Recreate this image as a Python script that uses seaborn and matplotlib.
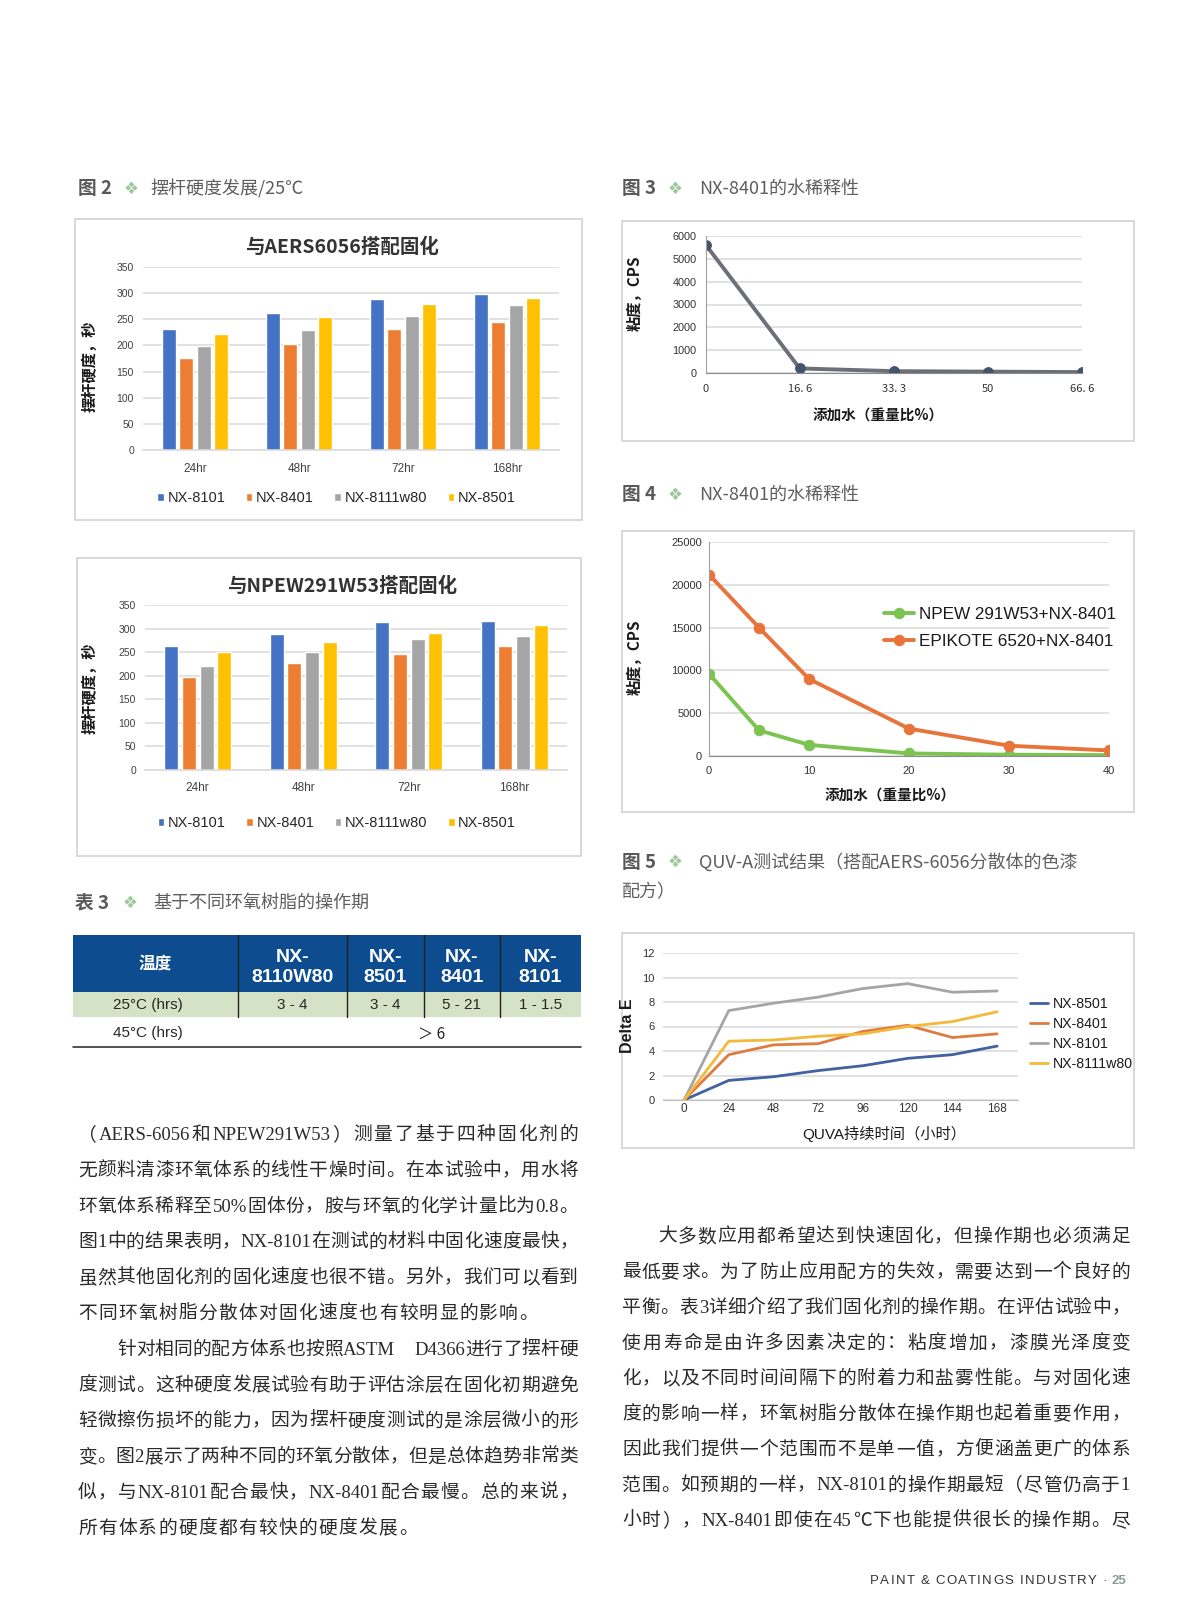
import re
import numpy as np
import pandas as pd
import matplotlib
matplotlib.use('Agg')
import matplotlib.pyplot as plt
import seaborn as sns
from matplotlib.patches import Rectangle

W, H = 1200, 1613
sns.set_style('white')
SANS = ['Liberation Sans', 'Noto Sans CJK SC', 'DejaVu Sans']
CJK = ['Noto Sans CJK SC', 'DejaVu Sans']
SERIF = ['Liberation Serif', 'Noto Sans CJK SC', 'DejaVu Sans']
plt.rcParams['font.family'] = SANS
plt.rcParams['axes.unicode_minus'] = False

# ---------------- data ----------------
times = ['24hr', '48hr', '72hr', '168hr']
curing_agents = ['NX-8101', 'NX-8401', 'NX-8111w80', 'NX-8501']
aers_nx8101 = [231, 262, 289, 298]
aers_nx8401 = [176, 202, 231, 244]
aers_nx8111w80 = [198, 229, 257, 278]
aers_nx8501 = [221, 255, 279, 290]
npew_nx8101 = [263, 289, 313, 317]
npew_nx8401 = [198, 226, 247, 264]
npew_nx8111w80 = [221, 250, 278, 284]
npew_nx8501 = [250, 271, 291, 308]
bar_colors = ['#4472C4', '#ED7D31', '#A5A5A5', '#FFC000']

water3 = [0, 16.6, 33.3, 50, 66.6]
water3_labels = ['0', '16. 6', '33. 3', '50', '66. 6']
visc3 = [5600, 200, 80, 60, 40]

water4 = [0, 5, 10, 20, 30, 40]
visc_npew = [9600, 3000, 1300, 300, 150, 100]
visc_epikote = [21200, 15000, 9000, 3200, 1200, 650]
fig4_labels = ['NPEW 291W53+NX-8401', 'EPIKOTE 6520+NX-8401']

quv_hours = [0, 24, 48, 72, 96, 120, 144, 168]
de_nx8501 = [0, 1.6, 1.9, 2.4, 2.8, 3.4, 3.7, 4.4]
de_nx8401 = [0, 3.7, 4.5, 4.6, 5.6, 6.1, 5.1, 5.4]
de_nx8101 = [0, 7.3, 7.9, 8.4, 9.1, 9.5, 8.8, 8.9]
de_nx8111w80 = [0, 4.8, 4.9, 5.2, 5.4, 6.0, 6.4, 7.2]
quv_series = ['NX-8501', 'NX-8401', 'NX-8101', 'NX-8111w80']
quv_colors = ['#41629E', '#E07B40', '#A5A5A5', '#F2B93B']

table_header = ['温度', 'NX-\n8110W80', 'NX-\n8501', 'NX-\n8401', 'NX-\n8101']
table_row25 = ['25°C (hrs)', '3 - 4', '3 - 4', '5 - 21', '1 - 1.5']
table_row45 = ['45°C (hrs)', '＞ 6']

body_left = [
    '（AERS-6056和NPEW291W53）测量了基于四种固化剂的',
    '无颜料清漆环氧体系的线性干燥时间。在本试验中，用水将',
    '环氧体系稀释至50%固体份，胺与环氧的化学计量比为0.8。',
    '图1中的结果表明，NX-8101在测试的材料中固化速度最快，',
    '虽然其他固化剂的固化速度也很不错。另外，我们可以看到',
    '不同环氧树脂分散体对固化速度也有较明显的影响。',
    '针对相同的配方体系也按照ASTM　D4366进行了摆杆硬',
    '度测试。这种硬度发展试验有助于评估涂层在固化初期避免',
    '轻微擦伤损坏的能力，因为摆杆硬度测试的是涂层微小的形',
    '变。图2展示了两种不同的环氧分散体，但是总体趋势非常类',
    '似，与NX-8101配合最快，NX-8401配合最慢。总的来说，',
    '所有体系的硬度都有较快的硬度发展。',
]
body_right = [
    '大多数应用都希望达到快速固化，但操作期也必须满足',
    '最低要求。为了防止应用配方的失效，需要达到一个良好的',
    '平衡。表3详细介绍了我们固化剂的操作期。在评估试验中，',
    '使用寿命是由许多因素决定的：粘度增加，漆膜光泽度变',
    '化，以及不同时间间隔下的附着力和盐雾性能。与对固化速',
    '度的影响一样，环氧树脂分散体在操作期也起着重要作用，',
    '因此我们提供一个范围而不是单一值，方便涵盖更广的体系',
    '范围。如预期的一样，NX-8101的操作期最短（尽管仍高于1',
    '小时），NX-8401即使在45℃下也能提供很长的操作期。尽',
]

# ---------------- figure ----------------
fig = plt.figure(figsize=(12, 16.13), dpi=100)
page = fig.add_axes([0, 0, 1, 1], zorder=0)
page.set_xlim(0, W)
page.set_ylim(H, 0)
page.axis('off')
renderer = fig.canvas.get_renderer()


def add_ax(l, t, r, b):
    a = fig.add_axes([l / W, 1 - b / H, (r - l) / W, (b - t) / H], zorder=2)
    a.patch.set_alpha(0)
    return a


def box(l, t, r, b, ec='#D2D2D2'):
    page.add_patch(Rectangle((l, t), r - l, b - t, fill=False, ec=ec, lw=1.2))


def label_coords(ax, rect, px, py, axis='y'):
    l, t, r, b = rect
    fx = (px - l) / (r - l)
    fy = (b - py) / (b - t)
    if axis == 'y':
        ax.yaxis.set_label_coords(fx, fy)
    else:
        ax.xaxis.set_label_coords(fx, fy)


def fig_title(y, xl, label, xd, xt, title):
    page.text(xl, y, label, ha='left', va='center', fontsize=13.5,
              fontweight='bold', color='#595959', family=CJK)
    page.text(xd, y, '❖', ha='left', va='center', fontsize=12,
              color='#9CC89A', family=['DejaVu Sans'])
    page.text(xt, y, title, ha='left', va='center', fontsize=13,
              color='#5E5E5E', family=CJK)


# ---------- bar charts ----------
def bar_chart(boxr, rect, title, title_y, vals, leg_y, ylab_x, ylab_y, xpad):
    box(*boxr)
    ax = add_ax(*rect)
    df = pd.DataFrame({'time': times * 4,
                       'agent': np.repeat(curing_agents, 4),
                       'value': np.concatenate(vals)})
    sns.barplot(data=df, x='time', y='value', hue='agent', order=times,
                hue_order=curing_agents, palette=bar_colors, width=0.67,
                gap=0.2, saturation=1, ax=ax)
    ax.set_ylim(0, 350)
    ax.set_xlim(-0.5, 3.5)
    ax.set_yticks(range(0, 351, 50))
    ax.yaxis.grid(True, color='#D9D9D9', lw=1.1)
    ax.set_axisbelow(True)
    for s in ['top', 'right', 'left']:
        ax.spines[s].set_visible(False)
    ax.spines['bottom'].set_color('#D9D9D9')
    ax.spines['bottom'].set_linewidth(1.1)
    ax.tick_params(axis='y', length=0, pad=6.5, labelsize=7.5, labelcolor='#404040')
    ax.tick_params(axis='x', length=0, pad=xpad, labelsize=8.5, labelcolor='#404040')
    ax.set_xlabel('')
    ax.set_ylabel('摆杆硬度，秒', fontsize=11, fontweight='bold', family=CJK, color='#1a1a1a')
    label_coords(ax, rect, ylab_x, ylab_y)
    handles, labels = ax.get_legend_handles_labels()
    cx = (boxr[0] + boxr[2]) / 2 + 8
    ax.legend(handles, labels, ncol=4, loc='center', bbox_to_anchor=(cx, leg_y),
              bbox_transform=page.transData, frameon=False, fontsize=10.5,
              handlelength=0.45, handleheight=0.45, handletextpad=0.25,
              columnspacing=1.4, labelcolor='#262626')
    page.text(342, title_y, title, ha='center', va='center', fontsize=14,
              fontweight='bold', family=CJK, color='#333333')


fig_title(189, 78, '图 2', 124, 150, '摆杆硬度发展/25℃')
bar_chart((75, 219, 582, 520), (143, 267, 559, 450), '与AERS6056搭配固化', 247,
          [aers_nx8101, aers_nx8401, aers_nx8111w80, aers_nx8501], 498, 98, 366, 9)
bar_chart((77, 558, 581, 856), (145, 605, 567, 770), '与NPEW291W53搭配固化', 586,
          [npew_nx8101, npew_nx8401, npew_nx8111w80, npew_nx8501], 823, 98, 688, 8.5)

# ---------- figure 3 ----------
fig_title(189, 622, '图 3', 668, 699, 'NX-8401的水稀释性')
box(622, 221, 1134, 441)
r3 = (706, 236, 1082, 373)
ax3 = add_ax(*r3)
sns.lineplot(x=water3, y=visc3, ax=ax3, color='#6C6E78', lw=2.8, marker='o',
             markersize=7, markerfacecolor='#44546A', markeredgecolor='#44546A')
ax3.set_xlim(0, 66.6)
ax3.set_ylim(0, 6000)
ax3.set_yticks(range(0, 6001, 1000))
ax3.set_xticks(water3)
ax3.set_xticklabels(water3_labels, family=CJK)
ax3.yaxis.grid(True, color='#D9D9D9', lw=1.1)
ax3.set_axisbelow(True)
for s in ['top', 'right']:
    ax3.spines[s].set_visible(False)
ax3.spines['left'].set_color('#A0A0A0')
ax3.spines['bottom'].set_color('#8C8C8C')
ax3.tick_params(axis='y', length=0, pad=7, labelsize=7.8, labelcolor='#333333')
ax3.tick_params(axis='x', length=0, pad=8, labelsize=8, labelcolor='#333333')
ax3.set_ylabel('粘度，CPS', fontsize=11, fontweight='bold', family=CJK, color='#1a1a1a')
ax3.set_xlabel('添加水（重量比%）', fontsize=10.5, fontweight='bold', family=CJK, color='#1a1a1a')
label_coords(ax3, r3, 643, 293, 'y')
label_coords(ax3, r3, 878, 416, 'x')
ax3.xaxis.label.set_va('center')

# ---------- figure 4 ----------
fig_title(495, 622, '图 4', 668, 699, 'NX-8401的水稀释性')
box(622, 531, 1134, 812)
r4 = (709, 542, 1109, 756)
ax4 = add_ax(*r4)
sns.lineplot(x=water4, y=visc_npew, ax=ax4, color='#7DC352', lw=2.8, marker='o',
             markersize=7.5, markeredgecolor='#7DC352', label=fig4_labels[0])
sns.lineplot(x=water4, y=visc_epikote, ax=ax4, color='#E8743B', lw=2.8, marker='o',
             markersize=7.5, markeredgecolor='#E8743B', label=fig4_labels[1])
ax4.set_xlim(0, 40)
ax4.set_ylim(0, 25000)
ax4.set_yticks(range(0, 25001, 5000))
ax4.set_xticks([0, 10, 20, 30, 40])
ax4.yaxis.grid(True, color='#D9D9D9', lw=1.1)
ax4.set_axisbelow(True)
for s in ['top', 'right']:
    ax4.spines[s].set_visible(False)
ax4.spines['left'].set_color('#A0A0A0')
ax4.spines['bottom'].set_color('#8C8C8C')
ax4.tick_params(axis='y', length=0, pad=5, labelsize=8, labelcolor='#333333')
ax4.tick_params(axis='x', length=0, pad=7.5, labelsize=8, labelcolor='#333333')
ax4.set_ylabel('粘度，CPS', fontsize=11, fontweight='bold', family=CJK, color='#1a1a1a')
ax4.set_xlabel('添加水（重量比%）', fontsize=10.5, fontweight='bold', family=CJK, color='#1a1a1a')
label_coords(ax4, r4, 643, 657, 'y')
label_coords(ax4, r4, 890, 796, 'x')
ax4.xaxis.label.set_va('center')
ax4.legend(loc='center left', bbox_to_anchor=(884, 628), bbox_transform=page.transData,
           frameon=False, fontsize=12.3, handlelength=1.75, handletextpad=0.3,
           labelspacing=0.75, borderaxespad=0, borderpad=0, labelcolor='#1a1a1a')

# ---------- figure 5 ----------
fig_title(862, 622, '图 5', 668, 699, 'QUV-A测试结果（搭配AERS-6056分散体的色漆')
page.text(622, 892, '配方）', ha='left', va='center', fontsize=13, color='#5E5E5E', family=CJK)
box(622, 933, 1134, 1148)
r5 = (663, 953, 1018, 1100)
ax5 = add_ax(*r5)
for name, vals, col in zip(quv_series, [de_nx8501, de_nx8401, de_nx8101, de_nx8111w80], quv_colors):
    sns.lineplot(x=quv_hours, y=vals, ax=ax5, color=col, lw=2.0, label=name)
ax5.set_xlim(-11.3, 179.2)
ax5.set_ylim(0, 12)
ax5.set_yticks(range(0, 13, 2))
ax5.set_xticks(quv_hours)
ax5.yaxis.grid(True, color='#D9D9D9', lw=1.1)
ax5.set_axisbelow(True)
for s in ['top', 'right', 'left']:
    ax5.spines[s].set_visible(False)
ax5.spines['bottom'].set_color('#BFBFBF')
ax5.tick_params(axis='y', length=0, pad=6, labelsize=8, labelcolor='#333333')
ax5.tick_params(axis='x', length=0, pad=2.5, labelsize=8.5, labelcolor='#333333')
ax5.set_ylabel('Delta E', fontsize=11.5, fontweight='bold', color='#1a1a1a')
ax5.set_xlabel('QUVA持续时间（小时）', fontsize=11, color='#1a1a1a')
label_coords(ax5, r5, 635, 1026, 'y')
label_coords(ax5, r5, 884, 1134, 'x')
ax5.xaxis.label.set_va('center')
ax5.legend(loc='center left', bbox_to_anchor=(1030, 1034), bbox_transform=page.transData,
           frameon=False, fontsize=10.2, handlelength=1.3, handletextpad=0.35,
           labelspacing=0.42, borderaxespad=0, borderpad=0, labelcolor='#1a1a1a')

# ---------- table 3 ----------
fig_title(903, 75, '表 3', 123, 153, '基于不同环氧树脂的操作期')
col_edges = [73, 238, 347, 424, 500, 581]
page.add_patch(Rectangle((73, 935), 508, 57, color='#0D4C8E', lw=0))
page.add_patch(Rectangle((73, 992), 508, 25, color='#D4E3C6', lw=0))
for xe in col_edges[1:-1]:
    page.plot([xe, xe], [935, 1017], color='#1f1f1f', lw=1.0)
page.plot([73, 581], [1047, 1047], color='#222222', lw=1.1)
for i, h in enumerate(table_header):
    cx = (col_edges[i] + col_edges[i + 1]) / 2
    if '\n' in h:
        a, b = h.split('\n')
        page.text(cx, 957, a, ha='center', va='center', fontsize=14, fontweight='bold', color='white')
        page.text(cx, 977, b, ha='center', va='center', fontsize=14, fontweight='bold', color='white')
    else:
        page.text(cx, 964, h, ha='center', va='center', fontsize=12, fontweight='bold',
                  color='white', family=CJK)
for i, v in enumerate(table_row25):
    cx = (col_edges[i] + col_edges[i + 1]) / 2 if i else 148
    page.text(cx, 1005, v, ha='center', va='center', fontsize=11, color='#262626',
              family=SANS)
page.text(148, 1033, table_row45[0], ha='center', va='center', fontsize=11, color='#262626')
page.text(432, 1034, table_row45[1], ha='center', va='center', fontsize=11, color='#262626',
          family=CJK)


# ---------- body text ----------
def tokenize(s):
    return re.findall(r'[A-Za-z0-9\.\-%]+|.', s)


def place_line(s, x0, yc, x1=None, track=0.0, **kw):
    toks = tokenize(s)
    objs = [page.text(0, yc, t, ha='left', va='baseline', **kw) for t in toks]
    ws = [o.get_window_extent(renderer).width for o in objs]
    if x1 is not None and len(toks) > 1:
        gap = (x1 - x0 - sum(ws)) / (len(toks) - 1)
    else:
        gap = track
    x = x0
    for o, w in zip(objs, ws):
        o.set_x(x)
        x += w + gap


bkw = dict(fontsize=13.5, color='#2a2a2a', family=SERIF)
left_last = {5, 11}
for i, line in enumerate(body_left):
    yb = 1133 + i * 35.8 + 7
    x0 = 117 if i == 6 else 78
    place_line(line, x0, yb, None if i in left_last else 578, track=1.3, **bkw)
for i, line in enumerate(body_right):
    yb = 1235 + i * 35.5 + 7
    x0 = 658 if i == 0 else 622
    place_line(line, x0, yb, 1130, **bkw)

# ---------- footer ----------
foot = 'PAINT & COATINGS INDUSTRY ·'
objs = [page.text(0, 1584, c, ha='left', va='baseline', fontsize=9.5, color='#333333')
        for c in foot]
x = 870
for o in objs:
    w = o.get_window_extent(renderer).width
    if o.get_text() == ' ':
        w = 3.5
    o.set_x(x)
    x += w + 1.3
page.text(x + 3, 1584, '25', ha='left', va='baseline', fontsize=9.5, color='#8A9A9A',
          fontweight='bold')

fig.savefig('out.png', dpi=100, facecolor='white')
